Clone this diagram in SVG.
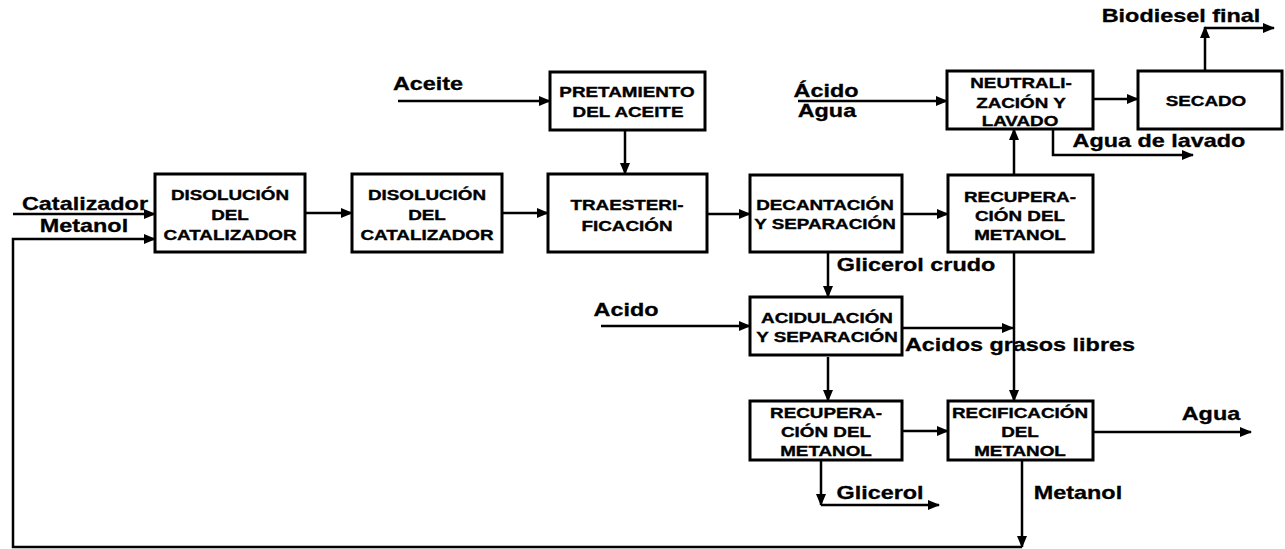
<svg xmlns="http://www.w3.org/2000/svg" width="1285" height="549" viewBox="0 0 1285 549">
<style>
.box{fill:#fff;stroke:#000;stroke-width:3}
.bt{font-family:"Liberation Sans",Arial,sans-serif;font-weight:bold;font-size:14.5px;text-anchor:middle;fill:#000;stroke:#000;stroke-width:0.35;transform-box:fill-box;transform-origin:center;transform:scaleX(1.3)}
.lb{font-family:"Liberation Sans",Arial,sans-serif;font-weight:bold;font-size:18px;text-anchor:middle;fill:#000;stroke:#000;stroke-width:0.3;transform-box:fill-box;transform-origin:center;transform:scaleX(1.3)}
.c{fill:none;stroke:#000;stroke-width:2.5}
.a{marker-end:url(#ah)}
</style>
<defs>
<marker id="ah" markerUnits="userSpaceOnUse" markerWidth="12" markerHeight="10" refX="11" refY="5" orient="auto">
<path d="M0,0 L12,5 L0,10 Z" fill="#000"/>
</marker>
</defs>
<rect width="1285" height="549" fill="#fff"/>
<g id="connectors">
<path class="c a" d="M13 214 H155"/>
<path class="c a" d="M1022 460 V547"/>
<path class="c a" d="M1022 547 H13 V239 H155"/>
<path class="c a" d="M305 213 H352"/>
<path class="c a" d="M502 213 H548"/>
<path class="c a" d="M398 101 H550"/>
<path class="c a" d="M625 130 V174"/>
<path class="c a" d="M707 214 H750"/>
<path class="c a" d="M902 214 H948"/>
<path class="c a" d="M798 101 H947"/>
<path class="c a" d="M1093 99 H1138"/>
<path class="c a" d="M1205 71 V27"/>
<path class="c a" d="M1205 28 H1274"/>
<path class="c a" d="M1053 129 V155 H1193"/>
<path class="c a" d="M1014 175 V129"/>
<path class="c a" d="M1014 252 V401"/>
<path class="c a" d="M828 252 V297"/>
<path class="c a" d="M601 326 H750"/>
<path class="c a" d="M903 328 H1013"/>
<path class="c a" d="M828 357 V401"/>
<path class="c a" d="M902 431 H948"/>
<path class="c a" d="M821 460 V505"/>
<path class="c a" d="M821 505 H939"/>
<path class="c a" d="M1093 432 H1251"/>
</g>
<g id="labels">
<text class="lb" x="85" y="210">Catalizador</text>
<text class="lb" x="84" y="232">Metanol</text>
<text class="lb" x="428" y="90">Aceite</text>
<text class="lb" x="826" y="97">Ácido</text>
<text class="lb" x="827" y="117">Agua</text>
<text class="lb" x="1181" y="22">Biodiesel final</text>
<text class="lb" x="1159" y="147">Agua de lavado</text>
<text class="lb" x="916" y="271">Glicerol crudo</text>
<text class="lb" x="626" y="316">Acido</text>
<text class="lb" x="1020" y="351">Acidos grasos libres</text>
<text class="lb" x="1211" y="420">Agua</text>
<text class="lb" x="880" y="499">Glicerol</text>
<text class="lb" x="1078" y="499">Metanol</text>
</g>
<g id="disolucion1">
<rect class="box" x="155" y="174" width="150" height="78"/>
<text class="bt" x="230" y="200">DISOLUCIÓN</text>
<text class="bt" x="230" y="220">DEL</text>
<text class="bt" x="230" y="240">CATALIZADOR</text>
</g>
<g id="disolucion2">
<rect class="box" x="352" y="174" width="150" height="78"/>
<text class="bt" x="427" y="200">DISOLUCIÓN</text>
<text class="bt" x="427" y="220">DEL</text>
<text class="bt" x="427" y="240">CATALIZADOR</text>
</g>
<g id="transesterificacion">
<rect class="box" x="548" y="174" width="159" height="78"/>
<text class="bt" x="627" y="210">TRAESTERI-</text>
<text class="bt" x="627" y="231">FICACIÓN</text>
</g>
<g id="pretamiento">
<rect class="box" x="550" y="72" width="155" height="58"/>
<text class="bt" x="627" y="97">PRETAMIENTO</text>
<text class="bt" x="628" y="117">DEL ACEITE</text>
</g>
<g id="decantacion">
<rect class="box" x="750" y="175" width="152" height="77"/>
<text class="bt" x="825" y="210">DECANTACIÓN</text>
<text class="bt" x="825" y="229">Y SEPARACIÓN</text>
</g>
<g id="recuperacion1">
<rect class="box" x="948" y="175" width="145" height="77"/>
<text class="bt" x="1020" y="202">RECUPERA-</text>
<text class="bt" x="1020" y="221">CIÓN DEL</text>
<text class="bt" x="1020" y="240">METANOL</text>
</g>
<g id="neutralizacion">
<rect class="box" x="947" y="71" width="146" height="58"/>
<text class="bt" x="1021" y="88">NEUTRALI-</text>
<text class="bt" x="1021" y="108">ZACIÓN Y</text>
<text class="bt" x="1020" y="126">LAVADO</text>
</g>
<g id="secado">
<rect class="box" x="1138" y="71" width="144" height="58"/>
<text class="bt" x="1206" y="106">SECADO</text>
</g>
<g id="acidulacion">
<rect class="box" x="750" y="297" width="152" height="58"/>
<text class="bt" x="827" y="323">ACIDULACIÓN</text>
<text class="bt" x="827" y="342">Y SEPARACIÓN</text>
</g>
<g id="recuperacion2">
<rect class="box" x="750" y="401" width="152" height="59"/>
<text class="bt" x="826" y="418">RECUPERA-</text>
<text class="bt" x="826" y="437">CIÓN DEL</text>
<text class="bt" x="826" y="456">METANOL</text>
</g>
<g id="rectificacion">
<rect class="box" x="948" y="401" width="145" height="59"/>
<text class="bt" x="1020" y="418">RECIFICACIÓN</text>
<text class="bt" x="1020" y="437">DEL</text>
<text class="bt" x="1020" y="456">METANOL</text>
</g>
</svg>
